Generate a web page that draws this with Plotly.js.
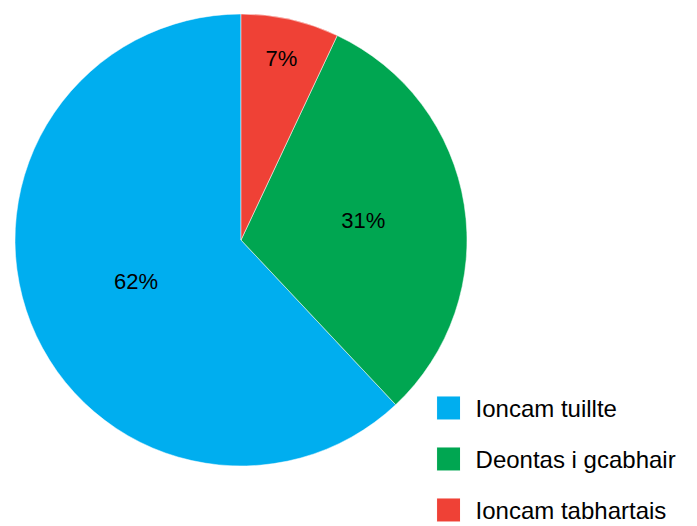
<!DOCTYPE html>
<html>
<head>
<meta charset="utf-8">
<script src="https://cdn.plot.ly/plotly-3.0.1.min.js"></script>
<style>html,body{margin:0;padding:0;background:#fff;}#chart{width:697px;height:526px;}</style>
</head>
<body>
<div id="chart"></div>
<script>
var categories = ["Ioncam tuillte", "Deontas i gcabhair", "Ioncam tabhartais"];
var values = [62, 31, 7];
var colors = ["#00AEEF", "#00A651", "#EF4136"];

var W = 697, H = 526;
var cx = 241, cy = 240, R = 226;

var trace = {
  type: "pie",
  labels: categories,
  values: values,
  sort: false,
  direction: "counterclockwise",
  rotation: 360 * (values[1] + values[2]) / (values[0] + values[1] + values[2]),
  marker: {colors: colors, line: {color: "#ffffff", width: 0.5}},
  textinfo: "percent",
  texttemplate: "%{percent:.0%}",
  textposition: "inside",
  insidetextorientation: "horizontal",
  textfont: {family: "Liberation Sans, Arial, sans-serif", size: 22, color: "#000000"},
  hoverinfo: "label+percent",
  domain: {x: [(cx - R) / W, (cx + R) / W], y: [(H - cy - R) / H, (H - cy + R) / H]}
};

var layout = {
  width: W, height: H,
  margin: {l: 0, r: 0, t: 0, b: 0},
  paper_bgcolor: "#ffffff",
  showlegend: true,
  legend: {
    x: 0.612, y: 0.27, xanchor: "left", yanchor: "top",
    font: {family: "Liberation Sans, Arial, sans-serif", size: 24, color: "#000000"},
    bgcolor: "rgba(0,0,0,0)"
  }
};

Plotly.newPlot("chart", [trace], layout, {displayModeBar: false, staticPlot: true}).then(function () {
  var sb = document.querySelector(".legend .scrollbox");
  if (sb) sb.removeAttribute("clip-path");
  var items = document.querySelectorAll(".legend .traces");
  items.forEach(function (el, i) {
    var m = /translate\(([-\d.]+)[ ,]+([-\d.]+)\)/.exec(el.getAttribute("transform") || "");
    var x0 = m ? parseFloat(m[1]) : 0;
    el.setAttribute("transform", "translate(" + (x0 + 2) + "," + (24 + i * 51) + ")");
    var p = el.querySelector(".legendpoints path");
    if (p) p.setAttribute("transform", "translate(20,0) scale(2)");
    var t = el.querySelector("text.legendtext");
    if (t) t.setAttribute("x", "47");
  });
});
</script>
</body>
</html>
